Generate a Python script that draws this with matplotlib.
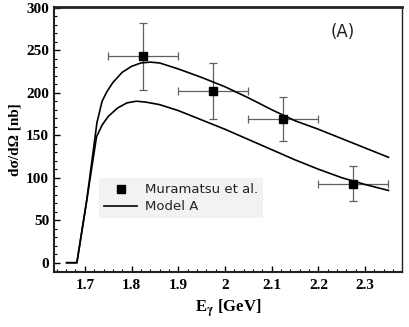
import matplotlib
matplotlib.use('Agg')
import matplotlib.pyplot as plt
from matplotlib.ticker import MultipleLocator

# data
exp_e = [1.825, 1.975, 2.125, 2.275]
exp_xs = [243, 202, 169, 93]
exp_eerr = [0.075, 0.075, 0.075, 0.075]
exp_lo = [40, 33, 26, 20]
exp_hi = [39, 33, 26, 21]

upper_e = [1.661, 1.683, 1.704, 1.726, 1.737, 1.747, 1.76, 1.78, 1.80, 1.82, 1.84,
           1.86, 1.90, 1.95, 2.00, 2.05, 2.10, 2.15, 2.20, 2.25, 2.30, 2.35]
upper_xs = [0, 0, 73, 165, 190, 201, 212, 224, 231, 235, 236,
            235, 228, 218, 207, 194, 180, 167, 157, 146, 135, 124]

lower_e = [1.661, 1.683, 1.704, 1.725, 1.737, 1.75, 1.77, 1.79, 1.81, 1.83, 1.86,
           1.90, 1.95, 2.00, 2.05, 2.10, 2.15, 2.20, 2.25, 2.30, 2.35]
lower_xs = [0, 0, 73, 148, 162, 172, 182, 188, 190, 189, 186,
            179, 168, 157, 145, 133, 121, 110, 100, 92, 85]

plt.rcParams['mathtext.fontset'] = 'stix'

fig = plt.figure(figsize=(4.09, 3.27), dpi=100)
ax = fig.add_axes([0.132, 0.168, 0.851, 0.811])

ax.plot(upper_e, upper_xs, color='black', lw=1.2, zorder=3)
ax.plot(lower_e, lower_xs, color='black', lw=1.2, zorder=3, label='Model A')
ax.errorbar(exp_e, exp_xs, xerr=exp_eerr, yerr=[exp_lo, exp_hi], fmt='none',
            ecolor='#606060', elinewidth=0.9, capsize=3, capthick=0.9, zorder=2)
ax.plot(exp_e, exp_xs, 's', color='black', ms=5.5, ls='none', zorder=4,
        label='Muramatsu et al.')

ax.set_xlim(1.634, 2.379)
ax.set_ylim(-11, 301)

ax.xaxis.set_major_locator(MultipleLocator(0.1))
ax.xaxis.set_minor_locator(MultipleLocator(0.02))
ax.yaxis.set_major_locator(MultipleLocator(50))
ax.yaxis.set_minor_locator(MultipleLocator(10))
ax.xaxis.set_major_formatter(plt.FuncFormatter(lambda v, p: f'{v:g}'))
ax.tick_params(which='both', direction='in', top=False, right=False)
ax.tick_params(which='major', length=4.5, width=1)
ax.tick_params(which='minor', length=2, width=0.8)
ax.tick_params(axis='x', pad=5)
for lab in ax.get_xticklabels() + ax.get_yticklabels():
    lab.set_fontfamily('Liberation Serif')
    lab.set_fontweight('bold')
    lab.set_fontsize(11)

for side, w in [('top', 2.0), ('left', 1.5), ('bottom', 1.5), ('right', 1.0)]:
    ax.spines[side].set_linewidth(w)
    ax.spines[side].set_color('#222222')

ax.set_xlabel(r'E$_{\mathbf{\gamma}}$ [GeV]', fontfamily='Liberation Serif',
              fontweight='bold', fontsize=12)
ax.set_ylabel('dσ/dΩ [nb]', fontfamily='Liberation Serif',
              fontweight='bold', fontsize=11)
ax.xaxis.set_label_coords(0.5, -0.098)
ax.yaxis.set_label_coords(-0.092, 0.5)

ax.text(0.83, 0.905, '(A)', transform=ax.transAxes, ha='center', va='center',
        fontsize=12, color='#222222')

handles, labels = ax.get_legend_handles_labels()
leg = ax.legend(handles[::-1], labels[::-1], loc='upper left',
                bbox_to_anchor=(0.129, 0.355), frameon=True, fancybox=False,
                facecolor='#f2f2f2', edgecolor='none', framealpha=1,
                fontsize=9.5, handlelength=2.5, borderpad=0.4,
                labelspacing=0.3, handletextpad=0.6, borderaxespad=0)
for t in leg.get_texts():
    t.set_color('#222222')

fig.savefig('out.png', dpi=100)
